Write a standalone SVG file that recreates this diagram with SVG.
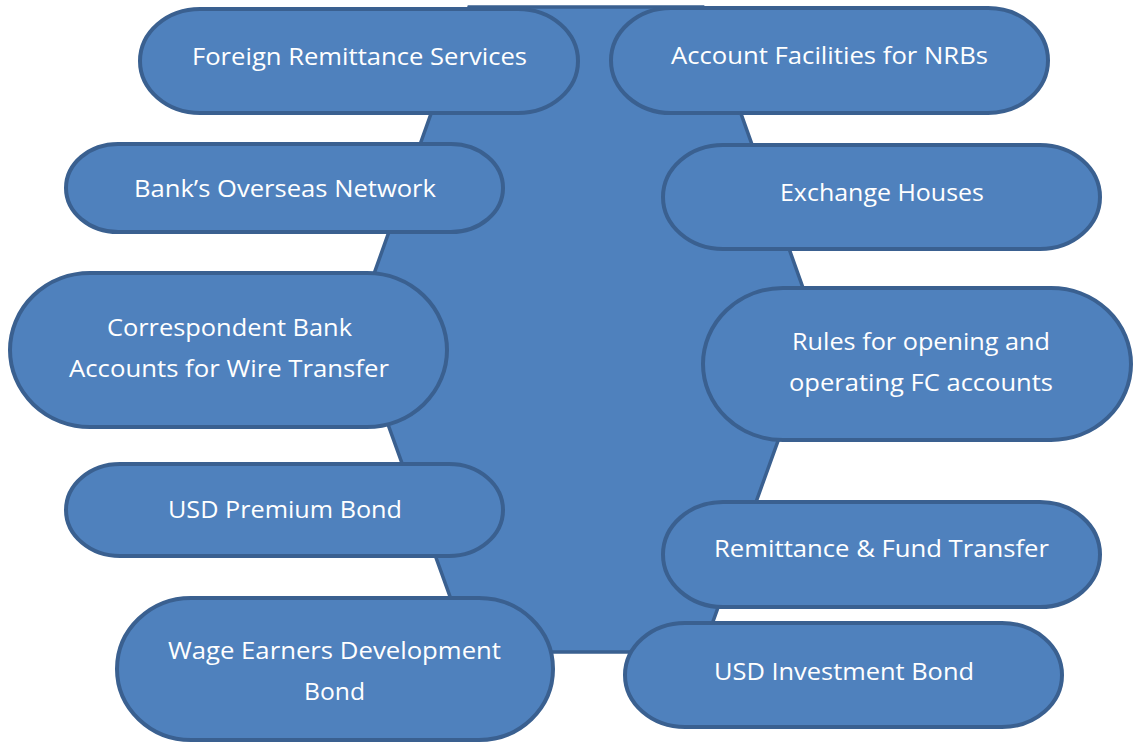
<svg xmlns="http://www.w3.org/2000/svg" width="1133" height="742" viewBox="0 0 1133 742">
  <style>
    .hub { fill: #4F81BD; stroke: #3A6090; stroke-width: 3.5; stroke-linejoin: miter; }
    .pill { fill: #4F81BD; stroke: #3A6090; stroke-width: 4; }
    .lbl { fill: #FFFFFF; font-family: "Open Sans", "Liberation Sans", sans-serif; font-size: 23px; text-anchor: middle; }
  </style>
  <rect width="1133" height="742" fill="#FFFFFF"/>

  <!-- central hexagon -->
  <g id="hub">
    <polygon class="hub" points="469,7 703,7 818,330 702,652 470,652 354,330"/>
  </g>

  <g id="connectors"></g>

  <g id="node-foreign-remittance">
    <rect class="pill" x="140" y="9" width="438" height="104" rx="60" ry="52"/>
    <text class="lbl" x="359.5" y="65" textLength="335" lengthAdjust="spacingAndGlyphs">Foreign Remittance Services</text>
  </g>
  <g id="node-account-facilities">
    <rect class="pill" x="611" y="8" width="437" height="105" rx="60" ry="52.5"/>
    <text class="lbl" x="829.5" y="64" textLength="317" lengthAdjust="spacingAndGlyphs">Account Facilities for NRBs</text>
  </g>
  <g id="node-overseas-network">
    <rect class="pill" x="66" y="144" width="437" height="88" rx="52" ry="44"/>
    <text class="lbl" x="285" y="197" textLength="302" lengthAdjust="spacingAndGlyphs">Bank’s Overseas Network</text>
  </g>
  <g id="node-exchange-houses">
    <rect class="pill" x="663" y="145" width="437" height="104" rx="60" ry="52"/>
    <text class="lbl" x="882" y="201" textLength="204" lengthAdjust="spacingAndGlyphs">Exchange Houses</text>
  </g>
  <g id="node-correspondent">
    <rect class="pill" x="10" y="273" width="437" height="154" rx="80" ry="77"/>
    <text class="lbl" x="229.5" y="336" textLength="245" lengthAdjust="spacingAndGlyphs">Correspondent Bank</text>
    <text class="lbl" x="229" y="377" textLength="320" lengthAdjust="spacingAndGlyphs">Accounts for Wire Transfer</text>
  </g>
  <g id="node-fc-rules">
    <rect class="pill" x="703" y="288" width="428" height="152" rx="80" ry="76"/>
    <text class="lbl" x="921" y="350" textLength="258" lengthAdjust="spacingAndGlyphs">Rules for opening and</text>
    <text class="lbl" x="921" y="391" textLength="264" lengthAdjust="spacingAndGlyphs">operating FC accounts</text>
  </g>
  <g id="node-usd-premium">
    <rect class="pill" x="66" y="464" width="437" height="92" rx="54" ry="46"/>
    <text class="lbl" x="285" y="518" textLength="234" lengthAdjust="spacingAndGlyphs">USD Premium Bond</text>
  </g>
  <g id="node-fund-transfer">
    <rect class="pill" x="663" y="502" width="437" height="105" rx="60" ry="52.5"/>
    <text class="lbl" x="881.5" y="557" textLength="335" lengthAdjust="spacingAndGlyphs">Remittance &amp; Fund Transfer</text>
  </g>
  <g id="node-wage-earners">
    <rect class="pill" x="117" y="598" width="436" height="142" rx="74" ry="71"/>
    <text class="lbl" x="334.5" y="659" textLength="333" lengthAdjust="spacingAndGlyphs">Wage Earners Development</text>
    <text class="lbl" x="334.5" y="700" textLength="61" lengthAdjust="spacingAndGlyphs">Bond</text>
  </g>
  <g id="node-usd-investment">
    <rect class="pill" x="625" y="623" width="437" height="104" rx="60" ry="52"/>
    <text class="lbl" x="844" y="680" textLength="260" lengthAdjust="spacingAndGlyphs">USD Investment Bond</text>
  </g>
</svg>
